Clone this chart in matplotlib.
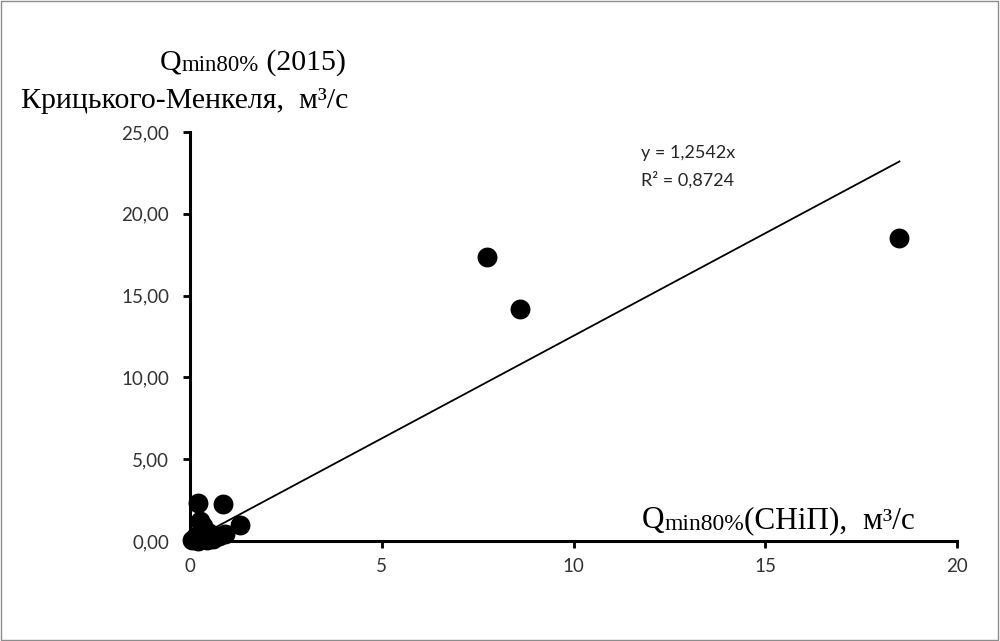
import matplotlib.pyplot as plt
import matplotlib.ticker as mticker
from matplotlib.patches import Rectangle
import numpy as np

# Data
q_snip = [7.75, 8.6, 18.5, 1.3, 0.85, 0.2, 0.25, 0.35, 0.05, 0.1, 0.15, 0.3,
          0.4, 0.5, 0.6, 0.75, 0.9, 0.2, 0.45]
q_krm = [17.35, 14.2, 18.5, 1.0, 2.25, 2.35, 1.2, 0.9, 0.05, 0.1, 0.3, 0.6,
         0.2, 0.5, 0.15, 0.3, 0.4, 0.0, 0.05]
slope = 1.2542
r2 = 0.8724

x_ticks = [0, 5, 10, 15, 20]
y_ticks = [0, 5, 10, 15, 20, 25]

serif = "Liberation Serif"
sans = "Lato"

fig = plt.figure(figsize=(10, 6.41), dpi=100)
ax = fig.add_axes([0.19, 0.156, 0.767, 0.638])

ax.scatter(q_snip, q_krm, s=205, color="black", zorder=3, linewidths=0,
           clip_on=False)

xs = np.array([0, max(q_snip)])
ax.plot(xs, slope * xs, color="black", lw=1.3, zorder=2)

ax.set_xlim(0, 20)
ax.set_ylim(0, 25)
ax.set_xticks(x_ticks)
ax.set_yticks(y_ticks)
ax.yaxis.set_major_formatter(mticker.FuncFormatter(lambda v, p: f"{v:.2f}".replace(".", ",")))
ax.xaxis.set_major_formatter(mticker.FuncFormatter(lambda v, p: f"{v:g}"))

for s in ["top", "right"]:
    ax.spines[s].set_visible(False)
for s in ["left", "bottom"]:
    ax.spines[s].set_linewidth(2.2)
ax.tick_params(width=2, length=5, direction="out", labelsize=13.5,
               labelcolor="#333333")
ax.tick_params(axis="y", pad=10)
ax.tick_params(axis="x", pad=7)
for lab in ax.get_xticklabels() + ax.get_yticklabels():
    lab.set_family(sans)

# trendline equation
fig.text(0.641, 0.753, "y = 1,2542x", fontsize=13, family=sans, color="#262626")
fig.text(0.641, 0.710, "R² = 0,8724", fontsize=13, family=sans, color="#262626")


def rich_label(x, y, parts):
    # draw text pieces of different sizes on one baseline
    prev = None
    for txt, size in parts:
        if prev is None:
            t = fig.text(x, y, txt, fontsize=size, family=serif, va="baseline")
        else:
            t = ax.annotate(txt, xy=(1, 0), xycoords=prev, fontsize=size,
                            family=serif, va="bottom", annotation_clip=False)
        prev = t


# y axis title (two lines)
fig.text(0.348, 0.832, "Крицького-Менкеля,  м³/с", fontsize=21.5, family=serif,
         ha="right", va="baseline")
rich_label(0.16, 0.891, [("Q", 21.5), ("min80%", 16.5), (" (2015)", 21.5)])

# x axis title
rich_label(0.642, 0.176, [("Q", 22.5), ("min80%", 17), ("(СНіП),  м³/с", 22.5)])

fig.patches.append(Rectangle((0.001, 0.001), 0.997, 0.997, transform=fig.transFigure,
                             fill=False, edgecolor="#8c8c8c", lw=1))

fig.savefig("out.png", dpi=100)
